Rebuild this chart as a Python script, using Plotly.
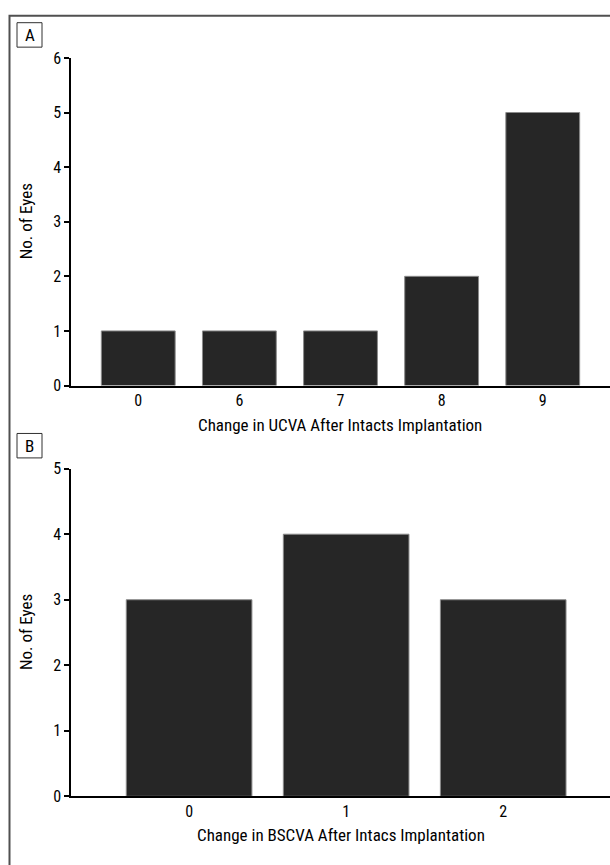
import plotly.graph_objects as go

W, H = 610, 865

# Panel A data
a_categories = ["0", "6", "7", "8", "9"]
a_values = [1, 1, 1, 2, 5]
a_yticks = [0, 1, 2, 3, 4, 5, 6]
a_xtitle = "Change in UCVA After Intacts Implantation"

# Panel B data
b_categories = ["0", "1", "2"]
b_values = [3, 4, 3]
b_yticks = [0, 1, 2, 3, 4, 5]
b_xtitle = "Change in BSCVA After Intacs Implantation"

ytitle = "No. of Eyes"

FONT = "Liberation Sans Narrow, Arial Narrow, Roboto Condensed, sans-serif"

def px_x(x):
    return x / W

def px_y(y):
    return 1 - y / H

fig = go.Figure()
bar_style = dict(marker=dict(color="#262626", line=dict(color="#8a8a8a", width=1)), showlegend=False)
fig.add_trace(go.Bar(x=a_categories, y=a_values, width=0.73, xaxis="x", yaxis="y", **bar_style))
fig.add_trace(go.Bar(x=b_categories, y=b_values, width=0.8, xaxis="x2", yaxis="y2", **bar_style))

ax_common = dict(showline=True, linecolor="black", linewidth=1.5, showgrid=False, zeroline=False,
                 tickfont=dict(family=FONT, size=16, color="black"))
xdom = [px_x(71), 1.0]
fig.update_layout(
    width=W, height=H,
    margin=dict(l=0, r=0, t=0, b=0),
    paper_bgcolor="white", plot_bgcolor="white",
    font=dict(family=FONT, color="black"),
    xaxis=dict(domain=xdom, anchor="y", type="category", range=[-0.665, 4.665], ticks="", **ax_common),
    yaxis=dict(domain=[px_y(385), px_y(50)], anchor="x", range=[0, 6], tickvals=a_yticks,
               ticks="outside", ticklen=5, tickcolor="black", tickwidth=1.5, **ax_common),
    xaxis2=dict(domain=xdom, anchor="y2", type="category", range=[-0.752, 2.68], ticks="", **ax_common),
    yaxis2=dict(domain=[px_y(805), px_y(470)], anchor="x2", range=[0, 5], tickvals=b_yticks,
                ticks="outside", ticklen=5, tickcolor="black", tickwidth=1.5, **ax_common),
)

shapes = [
    # outer frame
    dict(type="rect", xref="paper", yref="paper", x0=px_x(9.5), x1=1.05, y0=-0.05, y1=px_y(7),
         line=dict(color="#505050", width=2)),
    # panel labels
    dict(type="rect", xref="paper", yref="paper", x0=px_x(17), x1=px_x(42), y0=px_y(39), y1=px_y(14),
         line=dict(color="#303030", width=1)),
    dict(type="rect", xref="paper", yref="paper", x0=px_x(17), x1=px_x(42), y0=px_y(459), y1=px_y(434),
         line=dict(color="#303030", width=1)),
]
fig.update_layout(shapes=shapes)

ann = []
ann.append(dict(text="A", x=px_x(29.5), y=px_y(26.5), xref="paper", yref="paper", showarrow=False,
                font=dict(size=17, family=FONT), xanchor="center", yanchor="middle"))
ann.append(dict(text="B", x=px_x(29.5), y=px_y(446.5), xref="paper", yref="paper", showarrow=False,
                font=dict(size=17, family=FONT), xanchor="center", yanchor="middle"))
ann.append(dict(text=a_xtitle, x=px_x(340), y=px_y(425), xref="paper", yref="paper", showarrow=False,
                font=dict(size=17, family=FONT), xanchor="center", yanchor="middle"))
ann.append(dict(text=b_xtitle, x=px_x(341), y=px_y(845), xref="paper", yref="paper", showarrow=False,
                font=dict(size=17, family=FONT), xanchor="center", yanchor="middle"))
ann.append(dict(text=ytitle, x=px_x(26), y=px_y(217), xref="paper", yref="paper", showarrow=False,
                textangle=-90, font=dict(size=17, family=FONT), xanchor="center", yanchor="middle"))
ann.append(dict(text=ytitle, x=px_x(26), y=px_y(637), xref="paper", yref="paper", showarrow=False,
                textangle=-90, font=dict(size=17, family=FONT), xanchor="center", yanchor="middle"))
fig.update_layout(annotations=ann)

fig.write_html("out.html", config={"displayModeBar": False},
               post_script="document.body.style.margin='0';document.body.style.overflow='hidden';")
